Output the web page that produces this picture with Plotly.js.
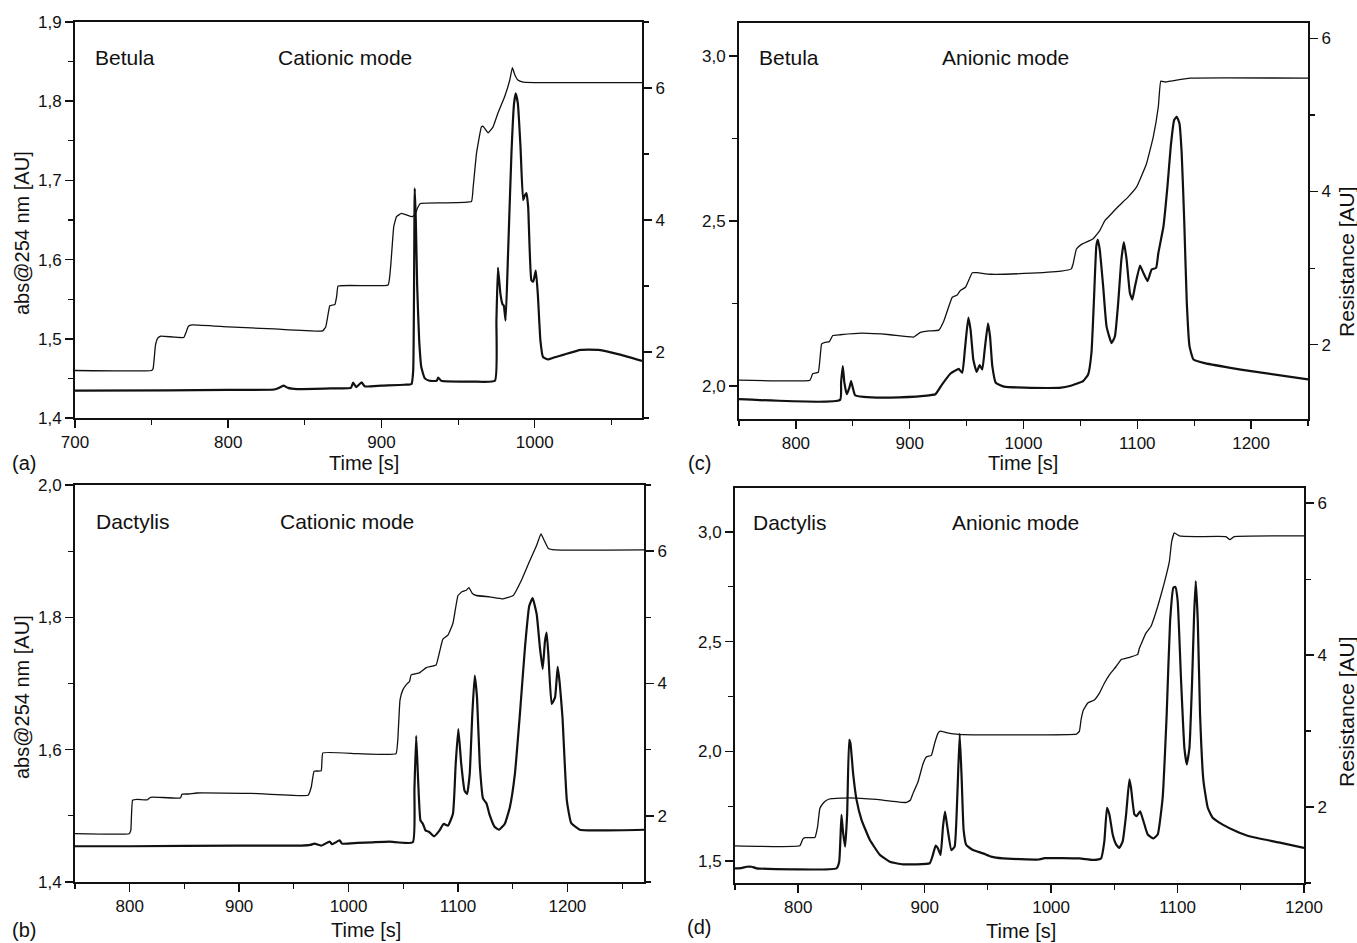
<!DOCTYPE html>
<html>
<head>
<meta charset="utf-8">
<script src="https://cdn.plot.ly/plotly-3.0.1.min.js"></script>
<style>html,body{margin:0;padding:0;background:#fff;}#chart{width:1357px;height:943px;}</style>
</head>
<body>
<div id="chart"></div>
<script>
// ---------------- DATA ----------------
// (a) Betula, cationic mode
const aAbsTime = [700,760,800,830,833,836,839,845,870,880,881.5,883.5,887,889,900,915,919.6,920.7,921.7,922.4,923.3,924.6,926,928.3,931.5,936,937,939,960,974,975,976,977.6,978.9,979.8,981,982.6,984.8,986.5,987.6,989,990.7,992.4,993.5,994.6,995.7,997.8,999,1000.7,1002,1003.7,1005.4,1008.7,1012,1019,1030,1041.6,1055.8,1070];
const aAbs = [1.4345,1.435,1.4355,1.436,1.438,1.441,1.438,1.4365,1.4375,1.438,1.4446,1.439,1.445,1.440,1.441,1.442,1.443,1.46,1.69,1.65,1.566,1.498,1.464,1.45,1.447,1.447,1.451,1.447,1.446,1.447,1.523,1.59,1.557,1.544,1.542,1.523,1.608,1.734,1.797,1.81,1.797,1.743,1.675,1.681,1.684,1.667,1.574,1.572,1.586,1.557,1.498,1.477,1.474,1.476,1.48,1.486,1.486,1.48,1.472];
const aResTime = [700,750,751,752.5,754,756,771,772.5,774,776.5,800,830,861.6,863.6,865,866.3,869.6,870.8,871.7,904.3,906,908,909.8,913,920,922,923.3,925.4,940,958.7,959.8,962,965.2,966.3,969.6,972.8,976,980.4,983.7,985.4,987,989,992.4,1010,1070];
const aRes = [1.72,1.72,1.75,2.1,2.21,2.24,2.22,2.3,2.39,2.41,2.38,2.35,2.32,2.38,2.55,2.70,2.72,2.85,3.0,3.015,3.3,3.9,4.05,4.10,4.05,4.08,4.17,4.25,4.26,4.28,4.49,5.01,5.41,5.42,5.32,5.41,5.62,5.87,6.12,6.31,6.2,6.12,6.09,6.08,6.08];

// (b) Dactylis, cationic mode
const bAbsTime = [750,800,900,957,965,969,975,982.7,985,991.8,994,1008,1022,1037.3,1058.7,1060.2,1061.8,1063.6,1065.7,1067.9,1070.3,1073.4,1078,1083.2,1086.9,1090.8,1095.4,1097.9,1100.3,1103,1106,1108.3,1110.7,1113.1,1115.3,1117.4,1119.9,1122.9,1126,1129,1133.6,1137.6,1142.8,1147.4,1152,1156.6,1161.2,1165.1,1168.2,1171.9,1174.9,1177.4,1179.5,1181,1182.6,1185.6,1188.7,1191.1,1193,1195.5,1199.5,1203.5,1211.4,1235,1270];
const bAbs = [1.454,1.454,1.455,1.455,1.456,1.458,1.455,1.461,1.457,1.463,1.458,1.459,1.46,1.461,1.46,1.54,1.621,1.553,1.493,1.488,1.478,1.476,1.469,1.478,1.488,1.485,1.503,1.578,1.631,1.578,1.538,1.533,1.563,1.654,1.712,1.679,1.578,1.526,1.519,1.501,1.483,1.479,1.488,1.513,1.563,1.654,1.754,1.817,1.829,1.805,1.754,1.722,1.764,1.777,1.744,1.669,1.679,1.725,1.70,1.649,1.523,1.489,1.479,1.478,1.479];
const bResTime = [750,799.5,801,802.6,807,816,819,826.6,846.3,847.8,853.9,861.5,911.5,963,966,968.5,975,976.5,1008.3,1043.4,1045,1047,1049.5,1052.6,1055.7,1057.2,1064.8,1071,1080,1083.2,1086.2,1090.8,1095.4,1100,1104,1107.6,1110,1113.1,1116.8,1129,1141.3,1150.5,1158,1165.7,1171.9,1175.8,1178.6,1182.6,1188.7,1270];
const bRes = [1.73,1.73,1.78,2.236,2.25,2.24,2.28,2.28,2.27,2.327,2.33,2.345,2.34,2.31,2.44,2.675,2.68,2.95,2.94,2.94,3.15,3.75,3.90,3.98,4.03,4.13,4.16,4.24,4.28,4.48,4.67,4.73,4.91,5.33,5.39,5.41,5.45,5.36,5.33,5.31,5.28,5.33,5.56,5.86,6.09,6.26,6.17,6.04,6.02,6.02];

// (c) Betula, anionic mode
const cAbsTime = [750,838.8,839.7,841.2,842.6,844.7,847,848.5,850,852,859.4,883,912.4,922.6,928.5,935.9,941.8,943,946.2,948.5,951.5,953.5,955.9,958.8,961.5,963.8,965.9,968.8,970.6,972.6,975.6,983,1000.6,1033,1040.6,1052.4,1056.8,1059.7,1061.8,1064,1065.3,1067,1070,1073,1077.4,1080.3,1083.2,1086,1088.2,1090.6,1093.5,1095.6,1098,1102.4,1105.3,1109,1112.6,1116.5,1118.5,1123,1126.5,1129.4,1132.4,1134.7,1137,1139,1141.2,1143.5,1145.9,1149.4,1158.2,1181.8,1200,1250];
const cAbs = [1.96,1.958,2.01,2.06,2.01,1.975,1.995,2.015,1.995,1.972,1.967,1.965,1.97,1.975,2.005,2.038,2.05,2.052,2.04,2.11,2.207,2.17,2.08,2.043,2.063,2.05,2.11,2.19,2.15,2.06,2.01,1.998,1.995,1.995,2.0,2.015,2.035,2.10,2.252,2.424,2.444,2.413,2.302,2.18,2.13,2.15,2.252,2.383,2.436,2.383,2.282,2.262,2.302,2.365,2.343,2.318,2.353,2.358,2.403,2.484,2.605,2.726,2.806,2.816,2.796,2.706,2.504,2.252,2.12,2.08,2.07,2.055,2.045,2.02];
const cResTime = [750,812.4,814.7,819.7,822.6,825.6,829.4,832.4,838.8,858,883,903.5,909.4,916.8,925.6,930,937.4,941.8,944.7,949,955,959.4,971,1000.6,1033,1042,1043.5,1046.5,1051,1061,1067,1071.5,1076,1083,1092,1099.4,1108,1114,1118.5,1120.6,1124.4,1128.8,1146.5,1250];
const cRes = [1.537,1.537,1.62,1.64,2.01,2.03,2.04,2.12,2.13,2.15,2.13,2.10,2.16,2.18,2.19,2.31,2.62,2.65,2.71,2.75,2.94,2.94,2.92,2.93,2.96,2.99,3.05,3.25,3.31,3.38,3.49,3.62,3.69,3.80,3.93,4.06,4.36,4.71,5.11,5.44,5.43,5.44,5.48,5.48];

// (d) Dactylis, anionic mode
const dAbsTime = [750,755,759.2,763.2,767.1,830.3,832.4,834.2,835.5,837.1,838.7,840.3,841.3,843.4,846.1,850,856.6,864.5,872.4,882.9,904,906.1,908.7,910.5,912.6,914.5,916.1,917.9,921.1,923.7,925.8,927.7,929.3,930.8,932.9,938.2,946.1,952.6,961.8,975,990,995,1022.4,1032.9,1039.5,1042.1,1044.2,1046.1,1048.7,1051.4,1054,1056.6,1059.3,1061.9,1063.2,1065.9,1067.7,1070.4,1073,1076.4,1080.9,1084.3,1088.2,1091.4,1094.1,1096.7,1098.3,1100.1,1102.8,1105.4,1107.3,1109.4,1111.5,1113.1,1114.4,1116,1117.8,1120.5,1123.9,1127.8,1135.7,1146.3,1156.8,1180,1200];
const dAbs = [1.467,1.468,1.474,1.474,1.467,1.467,1.497,1.71,1.628,1.566,1.717,2.052,2.037,1.9,1.78,1.689,1.597,1.529,1.497,1.485,1.49,1.52,1.57,1.558,1.528,1.657,1.725,1.657,1.55,1.566,1.794,2.08,1.87,1.642,1.573,1.55,1.535,1.52,1.512,1.509,1.507,1.513,1.512,1.505,1.512,1.59,1.743,1.712,1.621,1.576,1.56,1.59,1.712,1.872,1.834,1.712,1.705,1.727,1.682,1.621,1.603,1.621,1.788,2.168,2.594,2.746,2.749,2.685,2.32,2.016,1.94,2.016,2.32,2.624,2.776,2.594,2.168,1.864,1.743,1.697,1.666,1.636,1.613,1.585,1.56];
const dResTime = [750,801.3,803.5,805.3,813.2,815.3,817.1,819.7,822.4,826.3,840.8,861.8,885.5,888.7,890.8,894.7,898.7,901.3,905.3,907.9,910.5,912.4,917.1,925,938.2,975,1020,1022.4,1023.7,1025.6,1029,1034.2,1038.2,1042.1,1046.1,1051.4,1055.3,1061.9,1068.5,1069.8,1075,1079,1084.3,1089.5,1093.5,1095.3,1097.4,1101.4,1114.5,1138.2,1141.4,1144.8,1200];
const dRes = [1.49,1.49,1.575,1.598,1.60,1.74,1.98,2.05,2.09,2.11,2.12,2.10,2.06,2.09,2.18,2.33,2.57,2.66,2.68,2.84,2.97,3.00,2.98,2.96,2.95,2.95,2.96,3.0,3.15,3.28,3.37,3.41,3.50,3.63,3.74,3.85,3.94,3.97,4.01,4.09,4.29,4.38,4.64,4.95,5.23,5.49,5.61,5.57,5.56,5.56,5.52,5.56,5.57];

const panelLetters = ['(a)','(b)','(c)','(d)'];
const speciesLabels = ['Betula','Dactylis','Betula','Dactylis'];
const modeLabels = ['Cationic mode','Cationic mode','Anionic mode','Anionic mode'];
const xTitle = 'Time [s]';
const yLeftTitle = 'abs@254 nm [AU]';
const yRightTitle = 'Resistance [AU]';

// ---------------- LAYOUT ----------------
const W = 1357, H = 943;
const fx = v => v / W;
const fy = v => 1 - v / H;
const FONT = 'Liberation Sans, Arial, Helvetica, sans-serif';

// pixel boxes [left, right, top, bottom]
const panels = [
  {box:[75,642,22,418],  xr:[700,1070], yr:[1.4,1.9], yd:0.1, ym:0.05, y2r:[1,7],
   abs:[aAbsTime,aAbs], res:[aResTime,aRes], txt:[93,276,57], letter:[24,463], xt:[364,463], yl:[22,233], yr2:null},
  {box:[75,644,485,882], xr:[750,1270], yr:[1.4,2.0], yd:0.2, ym:0.1, y2r:[1,7],
   abs:[bAbsTime,bAbs], res:[bResTime,bRes], txt:[94,278,521], letter:[24,930], xt:[366,930], yl:[22,697], yr2:null},
  {box:[739,1308,23,419], xr:[750,1250], yr:[1.9,3.1], yd:0.5, ym:0.25, y2r:[1.03,6.2],
   abs:[cAbsTime,cAbs], res:[cResTime,cRes], txt:[757,940,57], letter:[699,463], xt:[1023,463], yl:null, yr2:[1346,262]},
  {box:[735,1304,488,883], xr:[750,1200], yr:[1.4,3.2], yd:0.5, ym:0.25, y2r:[1.0,6.2],
   abs:[dAbsTime,dAbs], res:[dResTime,dRes], txt:[751,950,522], letter:[699,927], xt:[1021,931], yl:null, yr2:[1346,712]}
];

const layout = {
  width: W, height: H,
  margin: {l:0, r:0, t:0, b:0},
  paper_bgcolor: '#fff', plot_bgcolor: '#fff',
  showlegend: false,
  separators: ',.',
  font: {family: FONT, color: '#111'},
  annotations: []
};
const traces = [];
const tickFont = {family: FONT, size: 17, color: '#111'};

panels.forEach((p, i) => {
  const xid = i === 0 ? 'x' : 'x' + (i + 1);
  const yL = i === 0 ? 'y' : 'y' + (2 * i + 1);
  const yR = 'y' + (2 * i + 2);
  const xKey = i === 0 ? 'xaxis' : 'xaxis' + (i + 1);
  const yLKey = i === 0 ? 'yaxis' : 'yaxis' + (2 * i + 1);
  const yRKey = 'yaxis' + (2 * i + 2);
  const [l, r, t, b] = p.box;
  layout[xKey] = {
    domain: [fx(l), fx(r)], anchor: yL, range: p.xr,
    showline: true, linecolor: '#111', linewidth: 2, mirror: true,
    ticks: 'outside', ticklen: 8, tickwidth: 1.5, tickcolor: '#111',
    dtick: 100, tick0: 0, tickfont: tickFont,
    minor: {ticks: 'outside', ticklen: 5, tickwidth: 1.2, tickcolor: '#111', dtick: 50, tick0: 0},
    showgrid: false, zeroline: false, fixedrange: true
  };
  layout[yLKey] = {
    domain: [fy(b), fy(t)], anchor: xid, range: p.yr,
    showline: true, linecolor: '#111', linewidth: 2,
    ticks: 'outside', ticklen: 8, tickwidth: 1.5, tickcolor: '#111',
    dtick: p.yd, tick0: 0, tickformat: '.1f', tickfont: tickFont,
    minor: {ticks: 'outside', ticklen: 5, tickwidth: 1.2, tickcolor: '#111', dtick: p.ym, tick0: 0},
    showgrid: false, zeroline: false, fixedrange: true
  };
  layout[yRKey] = {
    domain: [fy(b), fy(t)], anchor: xid, overlaying: yL, side: 'right', range: p.y2r,
    showline: true, linecolor: '#111', linewidth: 2,
    ticks: 'outside', ticklen: 8, tickwidth: 1.5, tickcolor: '#111',
    dtick: 2, tick0: 0, tickformat: 'd', tickfont: tickFont,
    minor: {ticks: 'outside', ticklen: 5, tickwidth: 1.2, tickcolor: '#111', dtick: 1, tick0: 0},
    showgrid: false, zeroline: false, fixedrange: true
  };
  traces.push({x: p.abs[0], y: p.abs[1], xaxis: xid, yaxis: yL, mode: 'lines',
    line: {color: '#111', width: 2.2, shape: 'spline', smoothing: 0.4}, hoverinfo: 'skip'});
  traces.push({x: p.res[0], y: p.res[1], xaxis: xid, yaxis: yR, mode: 'lines',
    line: {color: '#111', width: 1.3, shape: 'spline', smoothing: 0.3}, hoverinfo: 'skip'});

  const ann = layout.annotations;
  const txtFont = {family: FONT, size: 21, color: '#111'};
  ann.push({xref:'paper', yref:'paper', x: fx(p.txt[0]), y: fy(p.txt[2]), xanchor:'left', yanchor:'middle',
    text: speciesLabels[i], showarrow:false, font: txtFont});
  ann.push({xref:'paper', yref:'paper', x: fx(p.txt[1]), y: fy(p.txt[2]), xanchor:'left', yanchor:'middle',
    text: modeLabels[i], showarrow:false, font: txtFont});
  ann.push({xref:'paper', yref:'paper', x: fx(p.letter[0]), y: fy(p.letter[1]), xanchor:'center', yanchor:'middle',
    text: panelLetters[i], showarrow:false, font: {family: FONT, size: 20, color: '#111'}});
  ann.push({xref:'paper', yref:'paper', x: fx(p.xt[0]), y: fy(p.xt[1]), xanchor:'center', yanchor:'middle',
    text: xTitle, showarrow:false, font: {family: FONT, size: 20, color: '#111'}});
  if (p.yl) ann.push({xref:'paper', yref:'paper', x: fx(p.yl[0]), y: fy(p.yl[1]), xanchor:'center', yanchor:'middle',
    text: yLeftTitle, textangle: -90, showarrow:false, font: {family: FONT, size: 20, color: '#111'}});
  if (p.yr2) ann.push({xref:'paper', yref:'paper', x: fx(p.yr2[0]), y: fy(p.yr2[1]), xanchor:'center', yanchor:'middle',
    text: yRightTitle, textangle: -90, showarrow:false, font: {family: FONT, size: 21, color: '#111'}});
});

Plotly.newPlot('chart', traces, layout, {staticPlot: true, displayModeBar: false});
</script>
</body>
</html>
